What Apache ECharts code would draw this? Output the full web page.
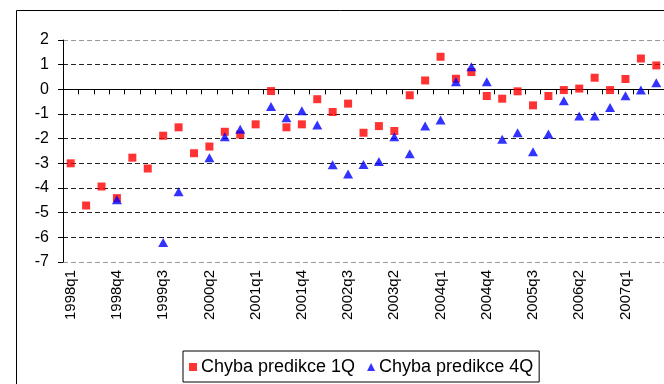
<!DOCTYPE html>
<html>
<head>
<meta charset="utf-8">
<script src="https://cdn.jsdelivr.net/npm/echarts@6/dist/echarts.min.js"></script>
<style>
html,body{margin:0;padding:0;background:#fff;}
#main{width:664px;height:384px;}
</style>
</head>
<body>
<div id="main"></div>
<script>
// kvartaly
var quarters = ['1998q1','1998q2','1998q3','1998q4','1999q1','1999q2','1999q3','1999q4',
	'2000q1','2000q2','2000q3','2000q4','2001q1','2001q2','2001q3','2001q4',
	'2002q1','2002q2','2002q3','2002q4','2003q1','2003q2','2003q3','2003q4',
	'2004q1','2004q2','2004q3','2004q4','2005q1','2005q2','2005q3','2005q4',
	'2006q1','2006q2','2006q3','2006q4','2007q1','2007q2','2007q3'];
// chyba predikce 1Q
var err1Q = [-3.0,-4.71,-3.94,-4.41,-2.77,-3.21,-1.88,-1.54,-2.59,-2.32,
	-1.72,-1.83,-1.42,-0.07,-1.54,-1.42,-0.40,-0.92,-0.58,-1.76,
	-1.49,-1.69,-0.24,0.36,1.32,0.43,0.70,-0.27,-0.38,-0.08,
	-0.65,-0.27,-0.03,0.03,0.47,-0.03,0.42,1.25,0.97];
// chyba predikce 4Q
var err4Q = [null,null,null,-4.48,null,null,-6.21,-4.15,null,-2.77,
	-1.92,-1.62,null,-0.70,-1.15,-0.87,-1.45,-3.06,-3.43,-3.05,
	-2.93,-1.92,-2.61,-1.49,-1.24,0.31,0.92,0.31,-2.02,-1.76,
	-2.53,-1.81,-0.46,-1.08,-1.08,-0.74,-0.26,-0.03,0.27];
var yMin = -7, yMax = 2, yStep = 1;
var seriesNames = ['Chyba predikce 1Q','Chyba predikce 4Q'];

var font = 'Liberation Sans, Arial, sans-serif';
var gridColors = [];
for (var i = yMin; i <= yMax; i++) {
	gridColors.push(i === yMin || i === yMax ? '#9a9a9a' : '#222');
}

var myChart = echarts.init(document.getElementById('main'), null, {renderer: 'canvas'});
var option = {
	animation: false,
	backgroundColor: '#fff',
	textStyle: {fontFamily: font},
	graphic: [{
		type: 'rect',
		shape: {x: 16.5, y: 10.5, width: 700, height: 400},
		style: {fill: 'none', stroke: '#000', lineWidth: 1},
		silent: true
	}],
	grid: {
		left: 63,
		top: 40,
		width: 606,
		height: 222,
		containLabel: false
	},
	legend: {
		left: 183,
		top: 351,
		orient: 'horizontal',
		borderColor: '#000',
		borderWidth: 1,
		borderRadius: 0,
		padding: [7, 6, 6, 6],
		itemGap: 12,
		itemWidth: 8,
		itemHeight: 8,
		textStyle: {fontFamily: font, fontSize: 18, color: '#000', padding: [0, 0, 0, -1]},
		data: [
			{name: seriesNames[0], icon: 'rect'},
			{name: seriesNames[1], icon: 'triangle'}
		]
	},
	xAxis: [{
		// osa na nule s carkami
		type: 'category',
		data: quarters,
		position: 'bottom',
		boundaryGap: true,
		axisLine: {onZero: true, lineStyle: {color: '#000', width: 1}},
		axisTick: {show: true, interval: 0, length: 5, lineStyle: {color: '#000'}},
		axisLabel: {show: false},
		splitLine: {show: false}
	}, {
		// popisky dole
		type: 'category',
		data: quarters,
		position: 'bottom',
		boundaryGap: true,
		axisLine: {show: false, onZero: false},
		axisTick: {show: false},
		axisLabel: {
			show: true,
			interval: 2,
			rotate: 90,
			margin: 8,
			fontFamily: font,
			fontSize: 15,
			color: '#000'
		},
		splitLine: {show: false}
	}],
	yAxis: {
		type: 'value',
		min: yMin,
		max: yMax,
		interval: yStep,
		axisLine: {show: true, lineStyle: {color: '#000', width: 1}},
		axisTick: {show: true, length: 5, lineStyle: {color: '#000'}},
		axisLabel: {fontFamily: font, fontSize: 16, color: '#000', margin: 14},
		splitLine: {
			show: true,
			lineStyle: {color: gridColors, type: [5, 3], width: 1}
		}
	},
	series: [{
		name: seriesNames[0],
		type: 'scatter',
		xAxisIndex: 0,
		data: err1Q,
		symbol: 'rect',
		symbolSize: 8,
		itemStyle: {color: '#ff0000'},
		z: 2
	}, {
		name: seriesNames[1],
		type: 'scatter',
		xAxisIndex: 0,
		data: err4Q,
		symbol: 'triangle',
		symbolSize: [10, 9],
		itemStyle: {color: '#0000ff'},
		z: 3
	}]
};
myChart.setOption(option);
</script>
</body>
</html>
